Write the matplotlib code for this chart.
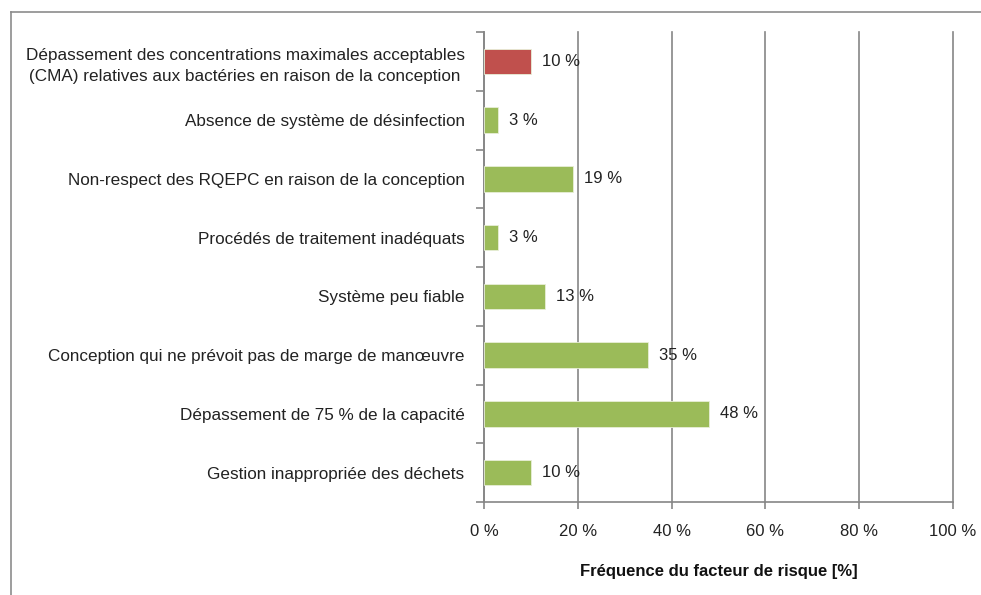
import matplotlib.pyplot as plt
from matplotlib.lines import Line2D
from matplotlib.ticker import FixedLocator

plt.rcParams['font.family'] = ['Liberation Sans', 'DejaVu Sans']

# Risk factors, top to bottom
categories = [
    "Dépassement des concentrations maximales acceptables\n(CMA) relatives aux bactéries en raison de la conception",
    "Absence de système de désinfection",
    "Non-respect des RQEPC en raison de la conception",
    "Procédés de traitement inadéquats",
    "Système peu fiable",
    "Conception qui ne prévoit pas de marge de manœuvre",
    "Dépassement de 75 % de la capacité",
    "Gestion inappropriée des déchets",
]
frequencies = [10, 3, 19, 3, 13, 35, 48, 10]
bar_colors = ['#C0504D'] + ['#9BBB59'] * 7
x_ticks = [0, 20, 40, 60, 80, 100]
x_tick_labels = ["0 %", "20 %", "40 %", "60 %", "80 %", "100 %"]

fig = plt.figure(figsize=(9.81, 5.95), dpi=100)
ax = fig.add_axes([484 / 981, 1 - 502 / 595, (953 - 484) / 981, (502 - 32) / 595])

n = len(categories)
ypos = list(range(n))
ax.barh(ypos, frequencies, height=0.43, color=bar_colors, edgecolor='#e8efd8', linewidth=0.6, zorder=3)

for y, v in zip(ypos, frequencies):
    ax.annotate(f"{v} %", xy=(v, y), xytext=(8, 0), textcoords='offset points',
                va='center', ha='left', fontsize=12, color='#222222')

ax.set_xlim(0, 100)
ax.set_ylim(n - 0.5, -0.5)

ax.set_xticks(x_ticks)
ax.set_xticklabels(x_tick_labels, fontsize=12, color='#222222')
ax.set_yticks(ypos)
ax.set_yticklabels(categories, fontsize=12.3, color='#222222')
for lbl in ax.get_yticklabels():
    lbl.set_multialignment('center')
    lbl.set_linespacing(1.55)
ax.tick_params(axis='y', which='major', length=0, pad=14)
ax.yaxis.set_minor_locator(FixedLocator([i - 0.5 for i in range(n + 1)]))
ax.tick_params(axis='y', which='minor', length=6, color='#868686', width=1.2, direction='out')
ax.tick_params(axis='x', length=5, color='#868686', width=1.2, pad=11)

ax.xaxis.grid(True, color='#868686', linewidth=1.2, zorder=0)
for gl in ax.get_xgridlines():
    gl.set_clip_on(False)
ax.set_axisbelow(True)

for side in ['top', 'right']:
    ax.spines[side].set_visible(False)
for side in ['left', 'bottom']:
    ax.spines[side].set_color('#868686')
    ax.spines[side].set_linewidth(1.2)

ax.set_xlabel("Fréquence du facteur de risque [%]", fontsize=12, fontweight='bold',
              color='#111111', labelpad=18)

# outer chart frame (only top and left edges are visible)
fig.add_artist(Line2D([11 / 981, 11 / 981], [0, 1 - 12 / 595], color='#8c8c8c', linewidth=1.2))
fig.add_artist(Line2D([11 / 981, 1], [1 - 12 / 595, 1 - 12 / 595], color='#8c8c8c', linewidth=1.2))

fig.savefig('out.png', dpi=100)
